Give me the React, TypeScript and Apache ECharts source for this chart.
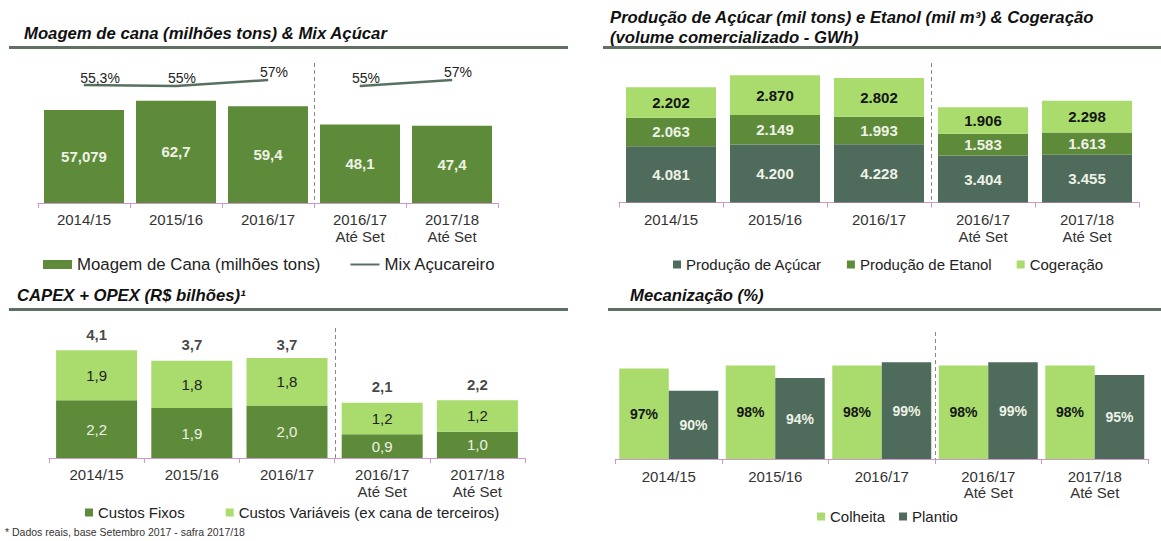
import React, { useEffect, useRef } from "react";
import * as echarts from "echarts";

// ---------- data ----------
const categories = ["2014/15", "2015/16", "2016/17", "2016/17\nAté Set", "2017/18\nAté Set"];

const moagemCana = [57.079, 62.7, 59.4, 48.1, 47.4];
const mixAcucareiro = [55.3, 55, 57, 55, 57];
const mixBreakIndex = 3; // line is interrupted between the full seasons and the "Até Set" periods

const producaoAcucar = [4081, 4200, 4228, 3404, 3455];
const producaoEtanol = [2063, 2149, 1993, 1583, 1613];
const cogeracao = [2202, 2870, 2802, 1906, 2298];

const custosFixos = [2.2, 1.9, 2.0, 0.9, 1.0];
const custosVariaveis = [1.9, 1.8, 1.8, 1.2, 1.2];
const totalCapexOpex = [4.1, 3.7, 3.7, 2.1, 2.2];

const colheita = [97, 98, 98, 98, 98];
const plantio = [90, 94, 99, 99, 95];

// ---------- styles ----------
const FONT = "'Liberation Sans', Arial, Helvetica, sans-serif";
const DARK = "#4e6b5c";
const MID = "#5e8b3a";
const LIGHT = "#a9dc6c";
const AXIS = "#c89bc8";
const RULE = "#5f6f64";
const LIGHT_TXT = "#eef2e6";
const DARK_TXT = "#151515";

const G1 = { left: 38, top: 40, width: 460, height: 163 };
const G2 = { left: 619, top: 50, width: 520, height: 152.5 };
const G3 = { left: 49, top: 326.5, width: 476, height: 131.5 };
const G4 = { left: 615.5, top: 340, width: 532.5, height: 119 };

const comma = (v: number) => String(v).replace(".", ",");
const thousands = (v: number) => String(v).replace(/\B(?=(\d{3})+(?!\d))/g, ".");
const oneDec = (v: number) => v.toFixed(1).replace(".", ",");

function xAxis(gridIndex: number, margin = 8, lineHeight = 17) {
  return {
    type: "category",
    gridIndex,
    data: categories,
    axisLine: { show: true, lineStyle: { color: AXIS, width: 1 } },
    axisTick: { show: true, length: 5, lineStyle: { color: AXIS } },
    axisLabel: { fontSize: 15, color: "#333", lineHeight, margin, fontFamily: FONT },
    splitLine: { show: false },
  };
}

function sepLine(g: { left: number; top: number; width: number; height: number }, yTop: number) {
  const x = Math.round(g.left + (g.width * 3) / 5) + 0.5;
  return {
    type: "line",
    shape: { x1: x, y1: yTop, x2: x, y2: g.top + g.height },
    style: { stroke: "#888", lineWidth: 1, lineDash: [4, 3] },
    silent: true,
  };
}

function rule(x: number, y: number, w: number) {
  return { type: "rect", shape: { x, y, width: w, height: 3 }, style: { fill: RULE }, silent: true };
}

const titleStyle = { fontSize: 16.7, fontWeight: "bold", fontStyle: "italic", color: "#111", lineHeight: 20, fontFamily: FONT };
const legendText = { fontSize: 15, color: "#222", fontFamily: FONT };

export default function App() {
  const ref = useRef<HTMLDivElement>(null);

  useEffect(() => {
    if (!ref.current) return;
    const chart = echarts.init(ref.current, null, { renderer: "svg" });

    const mixFirst = mixAcucareiro.map((v, i) => (i < mixBreakIndex ? v : "-"));
    const mixSecond = mixAcucareiro.map((v, i) => (i >= mixBreakIndex ? v : "-"));
    const mixLabel = {
      show: true,
      position: "top",
      distance: 0,
      fontSize: 14,
      color: "#222",
      fontFamily: FONT,
      formatter: (p: any) => comma(p.value) + "%",
    };
    const withOffset = (arr: any[]) =>
      arr.map((v, i) => (v === "-" ? v : { value: v, label: { offset: [i === 0 ? 16 : 6, 0] } }));

    const option: any = {
      animation: false,
      backgroundColor: "#fff",
      textStyle: { fontFamily: FONT },
      title: [
        { text: "Moagem de cana (milhões tons) & Mix Açúcar", left: 24, top: 23, padding: 0, textStyle: titleStyle },
        {
          text: "Produção de Açúcar (mil tons) e Etanol (mil m³) & Cogeração\n(volume comercializado - GWh)",
          left: 610,
          top: 7,
          padding: 0,
          textStyle: titleStyle,
        },
        { text: "CAPEX + OPEX (R$ bilhões)¹", left: 17, top: 285, padding: 0, textStyle: titleStyle },
        { text: "Mecanização (%)", left: 630, top: 285, padding: 0, textStyle: titleStyle },
        {
          text: "* Dados reais, base Setembro 2017 - safra 2017/18",
          left: 5,
          top: 526,
          padding: 0,
          textStyle: { fontSize: 10.5, fontWeight: "normal", color: "#333", fontFamily: FONT },
        },
      ],
      grid: [G1, G2, G3, G4].map((g) => ({ ...g, containLabel: false })),
      xAxis: [xAxis(0), xAxis(1), xAxis(2), xAxis(3, 9.5, 16)],
      yAxis: [
        { type: "value", gridIndex: 0, min: 0, max: 100, show: false },
        { type: "value", gridIndex: 0, min: 16, max: 70.33, show: false },
        { type: "value", gridIndex: 1, min: 0, max: 11050, show: false },
        { type: "value", gridIndex: 2, min: 0, max: 5, show: false },
        { type: "value", gridIndex: 3, min: 68.5, max: 106, show: false },
      ],
      legend: [
        {
          left: 43,
          top: 256,
          padding: 0,
          itemWidth: 29,
          itemHeight: 9,
          itemGap: 29,
          selectedMode: false,
          textStyle: { ...legendText, fontSize: 16.8 },
          data: [
            { name: "Moagem de Cana (milhões tons)", icon: "rect" },
            { name: "Mix Açucareiro", itemStyle: { opacity: 0 } },
          ],
        },
        {
          left: 673,
          top: 257,
          padding: 0,
          itemWidth: 8,
          itemHeight: 8,
          itemGap: 25,
          icon: "rect",
          selectedMode: false,
          textStyle: legendText,
          data: ["Produção de Açúcar", "Produção de Etanol", "Cogeração"],
        },
        {
          left: 85,
          top: 505,
          padding: 0,
          itemWidth: 8,
          itemHeight: 8,
          itemGap: 41,
          icon: "rect",
          selectedMode: false,
          textStyle: legendText,
          data: ["Custos Fixos", "Custos Variáveis (ex cana de terceiros)"],
        },
        {
          left: 817,
          top: 509,
          padding: 0,
          itemWidth: 8,
          itemHeight: 8,
          itemGap: 14,
          icon: "rect",
          selectedMode: false,
          textStyle: legendText,
          data: ["Colheita", "Plantio"],
        },
      ],
      graphic: [
        rule(9, 46, 559),
        rule(603, 46, 558),
        rule(9, 308, 559),
        rule(608, 308, 553),
        sepLine(G1, 63),
        sepLine(G2, 63),
        sepLine(G3, 328),
        sepLine(G4, 332),
      ],
      series: [
        {
          name: "Moagem de Cana (milhões tons)",
          type: "bar",
          xAxisIndex: 0,
          yAxisIndex: 0,
          barWidth: 80,
          itemStyle: { color: MID },
          label: {
            show: true,
            position: "inside",
            fontSize: 15,
            fontWeight: "bold",
            color: LIGHT_TXT,
            formatter: (p: any) => comma(p.value),
          },
          data: moagemCana,
        },
        {
          name: "Mix Açucareiro",
          type: "line",
          xAxisIndex: 0,
          yAxisIndex: 1,
          symbol: "circle",
          symbolSize: 1,
          itemStyle: { color: "#587060" },
          lineStyle: { color: "#587060", width: 2.5 },
          label: mixLabel,
          data: withOffset(mixFirst),
        },
        {
          name: "Mix Açucareiro",
          type: "line",
          xAxisIndex: 0,
          yAxisIndex: 1,
          symbol: "circle",
          symbolSize: 1,
          itemStyle: { color: "#587060" },
          lineStyle: { color: "#587060", width: 2.5 },
          label: mixLabel,
          data: withOffset(mixSecond),
        },
        {
          name: "Produção de Açúcar",
          type: "bar",
          stack: "prod",
          xAxisIndex: 1,
          yAxisIndex: 2,
          barWidth: 90,
          itemStyle: { color: DARK },
          label: { show: true, position: "inside", fontSize: 15, fontWeight: "bold", color: LIGHT_TXT, formatter: (p: any) => thousands(p.value) },
          data: producaoAcucar,
        },
        {
          name: "Produção de Etanol",
          type: "bar",
          stack: "prod",
          xAxisIndex: 1,
          yAxisIndex: 2,
          barWidth: 90,
          itemStyle: { color: MID },
          label: { show: true, position: "inside", fontSize: 15, fontWeight: "bold", color: LIGHT_TXT, formatter: (p: any) => thousands(p.value) },
          data: producaoEtanol,
        },
        {
          name: "Cogeração",
          type: "bar",
          stack: "prod",
          xAxisIndex: 1,
          yAxisIndex: 2,
          barWidth: 90,
          itemStyle: { color: LIGHT },
          label: { show: true, position: "inside", fontSize: 15, fontWeight: "bold", color: DARK_TXT, formatter: (p: any) => thousands(p.value) },
          data: cogeracao,
        },
        {
          name: "Custos Fixos",
          type: "bar",
          stack: "capex",
          xAxisIndex: 2,
          yAxisIndex: 3,
          barWidth: 81,
          itemStyle: { color: MID },
          label: { show: true, position: "inside", fontSize: 15, color: LIGHT_TXT, formatter: (p: any) => oneDec(p.value) },
          data: custosFixos,
        },
        {
          name: "Custos Variáveis (ex cana de terceiros)",
          type: "bar",
          stack: "capex",
          xAxisIndex: 2,
          yAxisIndex: 3,
          barWidth: 81,
          itemStyle: { color: LIGHT },
          label: { show: true, position: "inside", fontSize: 15, color: "#222", formatter: (p: any) => oneDec(p.value) },
          data: custosVariaveis,
        },
        {
          name: "Total CAPEX + OPEX",
          type: "scatter",
          xAxisIndex: 2,
          yAxisIndex: 3,
          symbolSize: 1,
          itemStyle: { color: "rgba(0,0,0,0)" },
          label: {
            show: true,
            position: "top",
            distance: 8,
            fontSize: 15,
            fontWeight: "bold",
            color: "#151515",
            formatter: (p: any) => oneDec(p.value),
          },
          data: totalCapexOpex,
          silent: true,
        },
        {
          name: "Colheita",
          type: "bar",
          xAxisIndex: 3,
          yAxisIndex: 4,
          barWidth: 49.5,
          barGap: "0%",
          itemStyle: { color: LIGHT },
          label: { show: true, position: "inside", fontSize: 14, fontWeight: "bold", color: DARK_TXT, formatter: (p: any) => p.value + "%" },
          data: colheita,
        },
        {
          name: "Plantio",
          type: "bar",
          xAxisIndex: 3,
          yAxisIndex: 4,
          barWidth: 49.5,
          barGap: "0%",
          itemStyle: { color: DARK },
          label: { show: true, position: "inside", fontSize: 14, fontWeight: "bold", color: LIGHT_TXT, formatter: (p: any) => p.value + "%" },
          data: plantio,
        },
      ],
    };

    chart.setOption(option);
    return () => chart.dispose();
  }, []);

  return (
    <div
      ref={ref}
      style={{ position: "absolute", left: 0, top: 0, width: 1161, height: 541, background: "#fff" }}
    />
  );
}
